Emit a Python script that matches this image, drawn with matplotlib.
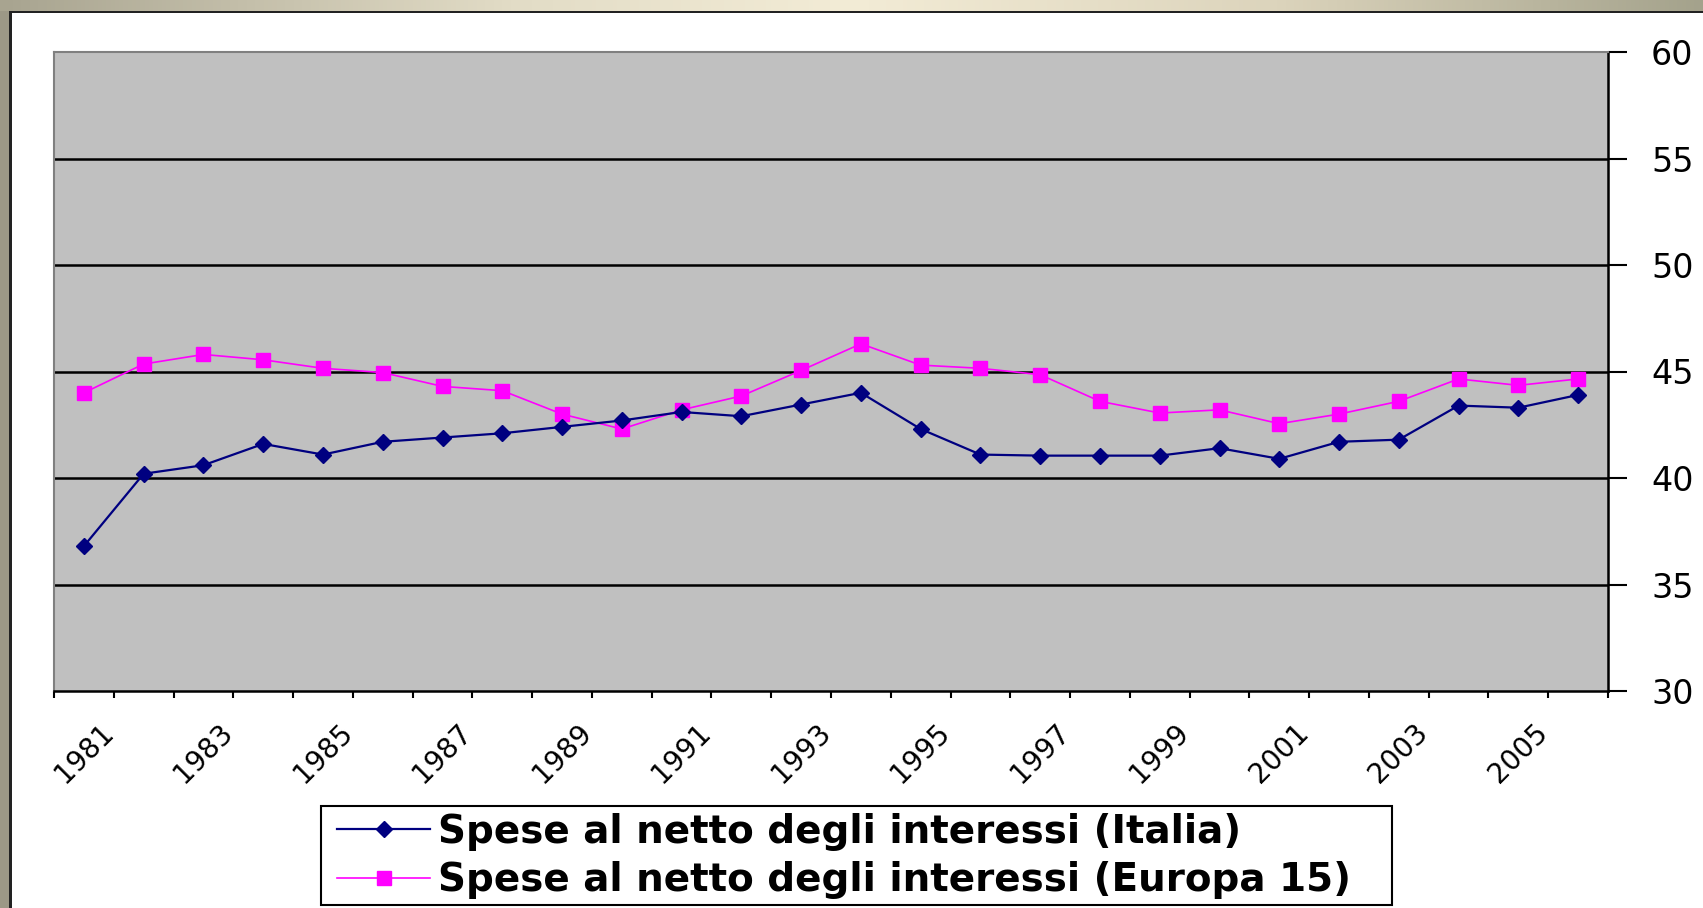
import numpy as np
import matplotlib
matplotlib.use("Agg")
import matplotlib.pyplot as plt
from matplotlib.patches import Rectangle

years = list(range(1981, 2007))
italia = [36.8, 40.2, 40.6, 41.6, 41.1, 41.7, 41.9, 42.1, 42.4, 42.7, 43.1, 42.9, 43.45, 44.0,
          42.3, 41.1, 41.05, 41.05, 41.05, 41.4, 40.9, 41.7, 41.8, 43.4, 43.3, 43.9]
europa = [44.0, 45.35, 45.8, 45.55, 45.15, 44.95, 44.3, 44.1, 43.0, 42.3, 43.2, 43.85, 45.05, 46.3,
          45.3, 45.15, 44.85, 43.6, 43.05, 43.2, 42.55, 43.0, 43.6, 44.65, 44.35, 44.65]
label_italia = "Spese al netto degli interessi (Italia)"
label_europa = "Spese al netto degli interessi (Europa 15)"
y_ticks = [30, 35, 40, 45, 50, 55, 60]

W, H = 1703, 908
fig = plt.figure(figsize=(W / 100, H / 100), dpi=100)
fig.patch.set_facecolor("white")

# window frame: gradient strip on top, grey strip on the left
top = fig.add_axes([0, 1 - 11 / H, 1, 11 / H])
stops = [0.0, 0.3, 0.5, 0.75, 1.0]
cols = np.array([[168, 164, 144], [226, 220, 198], [243, 236, 214], [220, 212, 188], [164, 162, 140]]) / 255
xs = np.linspace(0, 1, 400)
grad = np.stack([np.interp(xs, stops, cols[:, k]) for k in range(3)], axis=-1)[None, :, :]
top.imshow(grad, aspect="auto", extent=[0, 1, 0, 1])
top.axis("off")
fig.patches.append(Rectangle((0, 1 - 13 / H), 1, 2.5 / H, transform=fig.transFigure,
                             facecolor="#222222", edgecolor="none", zorder=5))
fig.patches.append(Rectangle((0, 0), 8.5 / W, 1 - 11 / H, transform=fig.transFigure,
                             facecolor="#9c9886", edgecolor="none", zorder=5))
fig.patches.append(Rectangle((8.5 / W, 0), 3 / W, 1 - 11 / H, transform=fig.transFigure,
                             facecolor="#222222", edgecolor="none", zorder=5))

ax = fig.add_axes([54 / W, 1 - 691 / H, (1608 - 54) / W, (691 - 52) / H])
ax.set_facecolor("#c0c0c0")
x = np.arange(len(years))

ax.plot(x, italia, color="#000080", lw=1.6, marker="D", ms=8, mec="#000080", mfc="#000080",
        label=label_italia, zorder=4)
ax.plot(x, europa, color="#ff00ff", lw=1.2, marker="s", ms=10, mec="#ff00ff", mfc="#ff00ff",
        label=label_europa, zorder=3)

for v in y_ticks[1:-1]:
    ax.axhline(v, color="black", lw=1.8, zorder=1)

ax.set_xlim(-0.5, len(years) - 0.5)
ax.set_ylim(y_ticks[0], y_ticks[-1])

ax.yaxis.tick_right()
ax.set_yticks(y_ticks)
ax.tick_params(axis="y", direction="out", length=14, width=1.5, pad=17, labelsize=24, colors="black")

ax.set_xticks(np.arange(len(years) + 1) - 0.5)
ax.set_xticklabels([])
ax.tick_params(axis="x", which="major", direction="out", length=5, width=1.5)
ax.set_xticks(x[::2], minor=True)
ax.set_xticklabels([str(y) for y in years[::2]], minor=True, rotation=45, fontsize=20)
ax.tick_params(axis="x", which="minor", length=0, pad=20)

for side in ["left", "top"]:
    ax.spines[side].set_color("#808080")
    ax.spines[side].set_linewidth(1.5)
for side in ["right", "bottom"]:
    ax.spines[side].set_color("black")
    ax.spines[side].set_linewidth(1.8)

# legend without its own frame, box drawn separately
leg = ax.legend(loc="upper left", bbox_to_anchor=(337 / W, 1 - 813 / H),
                bbox_transform=fig.transFigure, ncol=1, frameon=False,
                prop={"weight": "bold", "size": 28}, handlelength=2.4, handletextpad=0.2,
                labelspacing=0.26, borderpad=0, borderaxespad=0)
fig.patches.append(Rectangle((321 / W, 1 - 905 / H), (1392 - 321) / W, (905 - 806) / H,
                             transform=fig.transFigure, facecolor="none", edgecolor="black",
                             lw=1.5, zorder=6))

fig.savefig("out.png", dpi=100)
